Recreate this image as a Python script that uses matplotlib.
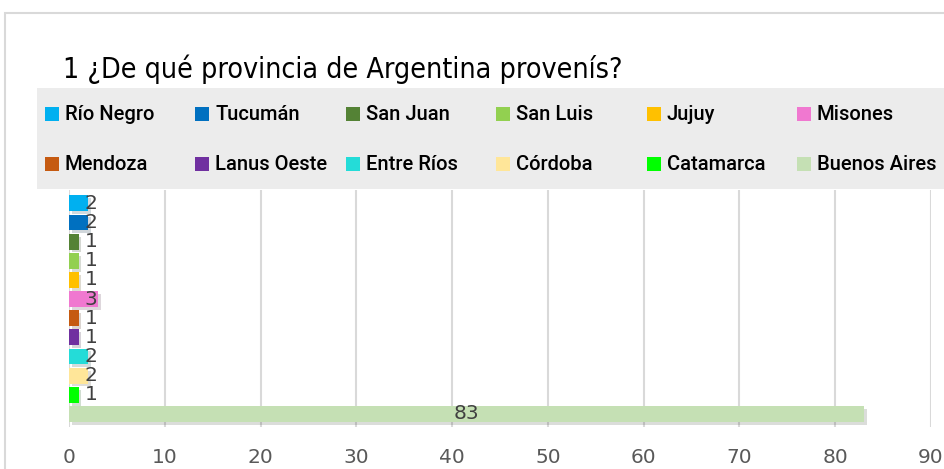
import matplotlib
matplotlib.use("Agg")
import matplotlib.pyplot as plt
import matplotlib.patheffects as pe
from matplotlib.patches import Rectangle

# Data
provincias = ["Río Negro", "Tucumán", "San Juan", "San Luis", "Jujuy", "Misones",
              "Mendoza", "Lanus Oeste", "Entre Ríos", "Córdoba", "Catamarca", "Buenos Aires"]
cantidades = [2, 2, 1, 1, 1, 3, 1, 1, 2, 2, 1, 83]
colores = ["#00B0F0", "#0070C0", "#548235", "#92D050", "#FFC000", "#F078D0",
           "#C55A11", "#7030A0", "#24DCD8", "#FFE699", "#00FF00", "#C5E0B4"]
x_ticks = [0, 10, 20, 30, 40, 50, 60, 70, 80, 90]
titulo = "1 ¿De qué provincia de Argentina provenís?"

W, H = 944, 469
fig = plt.figure(figsize=(W / 100, H / 100), dpi=100)
fig.patch.set_facecolor("white")

def fx(px):
    return px / W

def fy(py):
    return 1 - py / H

# outer chart border
fig.patches.append(Rectangle((fx(5), fy(480)), fx(960), fy(13) - fy(480),
                             transform=fig.transFigure, facecolor="none",
                             edgecolor="#D9D9D9", linewidth=1.5, zorder=0))
# legend background
fig.patches.append(Rectangle((fx(37), fy(189)), fx(960), fy(88) - fy(189),
                             transform=fig.transFigure, facecolor="#ECECEC",
                             edgecolor="none", zorder=1))

# title
fig.text(fx(63), fy(78), titulo, fontsize=20.5, color="black",
         family=["Liberation Sans Narrow", "DejaVu Sans"], fontstretch="condensed",
         va="baseline", ha="left")

# legend (row-major, 6 columns)
for i, (nom, col) in enumerate(zip(provincias, colores)):
    c = i % 6
    r = i // 6
    x0 = 45 + c * 150.4
    yc = 114 + r * 50
    fig.patches.append(Rectangle((fx(x0), fy(yc + 7)), fx(14), fy(yc - 7) - fy(yc + 7),
                                 transform=fig.transFigure, facecolor=col,
                                 edgecolor="none", zorder=2))
    fig.text(fx(x0 + 20), fy(yc), nom, fontsize=14.5, color="black",
             family="Roboto", fontweight="medium", va="center", ha="left")

# plot area
ax = fig.add_axes([fx(69), fy(427), fx(931) - fx(69), fy(190) - fy(427)])
ax.set_zorder(3)
ax.set_facecolor("none")
pos = list(range(len(provincias)))
bars = ax.barh(pos, cantidades, height=0.83, color=colores, zorder=3)
for b in bars:
    b.set_path_effects([pe.SimplePatchShadow(offset=(2, -2), alpha=0.18, rho=0.3),
                        pe.Normal()])

for p, v in zip(pos, cantidades):
    xl = v / 2 if v > 10 else 2.3
    ax.text(xl, p, str(v), ha="center", va="center", fontsize=14.5,
            color="#404040", zorder=4)

ax.set_xlim(0, 90)
ax.set_ylim(11.68, -0.70)
ax.set_xticks(x_ticks)
ax.set_xticklabels([str(t) for t in x_ticks])
ax.set_yticks([])
ax.grid(axis="x", color="#D9D9D9", linewidth=1.5, zorder=0)
ax.set_axisbelow(True)
for s in ax.spines.values():
    s.set_visible(False)
ax.tick_params(axis="x", length=0, pad=15, labelsize=14.5, labelcolor="#595959")

fig.savefig("out.png", dpi=100)
